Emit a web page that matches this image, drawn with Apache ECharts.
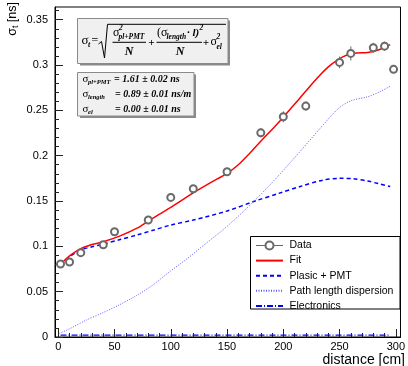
<!DOCTYPE html>
<html><head><meta charset="utf-8">
<script src="https://cdn.jsdelivr.net/npm/echarts@6/dist/echarts.min.js"></script>
<style>html,body{margin:0;padding:0;background:#fff}#c{width:408px;height:366px}</style>
</head><body><div id="c"></div>
<script>
// ---- data ----
const dataX   = [2, 10, 20, 40, 50, 80, 100, 120, 150, 180, 200, 220, 250, 260, 280, 290, 298];
const dataY   = [0.0805, 0.0827, 0.0930, 0.1018, 0.1161, 0.1290, 0.1540, 0.1635, 0.1823, 0.2252, 0.2429, 0.2547, 0.3029, 0.3128, 0.3190, 0.3208, 0.2952];
const dataErr = [0.002, 0.002, 0.002, 0.002, 0.002, 0.003, 0.003, 0.003, 0.004, 0.005, 0.006, 0.005, 0.0065, 0.0077, 0.0055, 0.005, 0.002];

const fitX = [2, 10, 20, 30, 40, 55, 70, 80, 90, 100, 120, 135, 150, 160, 170, 180, 190, 200, 215, 230, 240, 248, 256, 265, 275, 285, 295];
const fitY = [0.0800, 0.0895, 0.0975, 0.1020, 0.1050, 0.1115, 0.1200, 0.1279, 0.1356, 0.1430, 0.1590, 0.1700, 0.1805, 0.1900, 0.2025, 0.2160, 0.2290, 0.2425, 0.2640, 0.2855, 0.2980, 0.3055, 0.3108, 0.3132, 0.3137, 0.3168, 0.3225];

const pmtX = [2, 10, 20, 30, 40, 55, 70, 85, 100, 120, 150, 175, 196, 215, 235, 250, 262, 275, 285, 295];
const pmtY = [0.0800, 0.0885, 0.0960, 0.0995, 0.1025, 0.1075, 0.1125, 0.1180, 0.1235, 0.1290, 0.1390, 0.1500, 0.1584, 0.1660, 0.1730, 0.1750, 0.1745, 0.1720, 0.1690, 0.1660];

const pathX = [1, 10, 25, 40, 54, 70, 84, 100, 113, 130, 150, 175, 195, 216, 234, 249, 260, 275, 285, 295];
const pathY = [0.0040, 0.0090, 0.0187, 0.0270, 0.0353, 0.0460, 0.0573, 0.0730, 0.0849, 0.1020, 0.1220, 0.1510, 0.1770, 0.2062, 0.2319, 0.2521, 0.2605, 0.2650, 0.2700, 0.2767];

const elecX = [2, 100, 200, 295];
const elecY = [0.0020, 0.0020, 0.0020, 0.0020];

const xMajorTicks = [0, 50, 100, 150, 200, 250, 300];
const xMinorTicks = [0,10,20,30,40,50,60,70,80,90,100,110,120,130,140,150,160,170,180,190,200,210,220,230,240,250,260,270,280,290,300];
const yMajorTicks = [0, 0.05, 0.1, 0.15, 0.2, 0.25, 0.3, 0.35];
const yMinorTicks = [0,0.01,0.02,0.03,0.04,0.05,0.06,0.07,0.08,0.09,0.1,0.11,0.12,0.13,0.14,0.15,0.16,0.17,0.18,0.19,0.2,0.21,0.22,0.23,0.24,0.25,0.26,0.27,0.28,0.29,0.3,0.31,0.32,0.33,0.34,0.35,0.36];

const seriesNames = ['Data', 'Fit', 'Plasic + PMT', 'Path length dispersion', 'Electronics'];

// ---- build ----
const SANS = '"Liberation Sans", Arial, Helvetica, sans-serif';
const SERIF = '"Liberation Serif", "Times New Roman", serif';
const XMIN = -2.9, XMAX = 304.15, YMIN = 0, YMAX = 0.364;
const pairs = (xs, ys) => xs.map((x, i) => [x, ys[i]]);

function xAxisDef(major) {
  return {
    type: 'value', min: XMIN, max: XMAX, position: 'bottom', offset: 0,
    axisLine: { show: major, onZero: false, lineStyle: { color: '#000', width: 1 } },
    axisTick: { show: true, inside: true, length: major ? 8 : 4, customValues: major ? xMajorTicks : xMinorTicks, lineStyle: { color: '#222', width: 1 } },
    axisLabel: { show: major, customValues: xMajorTicks, margin: 4, fontSize: 11, color: '#000', fontFamily: SANS },
    splitLine: { show: false }
  };
}
function yAxisDef(major) {
  return {
    type: 'value', min: YMIN, max: YMAX, position: 'left', offset: 0,
    axisLine: { show: major, onZero: false, lineStyle: { color: '#000', width: 1 } },
    axisTick: { show: true, inside: true, length: major ? 8 : 4, customValues: major ? yMajorTicks : yMinorTicks, lineStyle: { color: '#222', width: 1 } },
    axisLabel: { show: major, customValues: yMajorTicks, margin: 7, fontSize: 11, color: '#000', fontFamily: SANS, formatter: v => String(+v.toFixed(2)) },
    splitLine: { show: false }
  };
}

function txt(x, y, text, size, opts) {
  opts = opts || {};
  return {
    type: 'text', x: x, y: y, z: opts.z || 20,
    style: {
      text: text, fontSize: size, fontFamily: opts.family || SERIF,
      fontWeight: opts.weight || 'normal', fontStyle: opts.style || 'normal',
      fill: '#000', align: opts.align || 'left', verticalAlign: 'middle'
    }
  };
}
const BI = { weight: 'bold', style: 'italic' };

const formulaBox = [
  { type: 'rect', z: 15, shape: { x: 80, y: 20.5, width: 150, height: 45 }, style: { fill: '#8a8a8a' } },
  { type: 'rect', z: 16, shape: { x: 77.5, y: 18.5, width: 150.5, height: 45 }, style: { fill: '#f0f0f0', stroke: '#8a8a8a', lineWidth: 1 } },
  txt(81.5, 41, 'σ', 13),
  txt(88, 44.5, 't', 8, BI),
  txt(91.5, 41, '=', 12),
  { type: 'polyline', z: 20, shape: { points: [[98.5, 44], [101.5, 41.5], [104.5, 58], [107.5, 24.3], [226, 24.3]] }, style: { stroke: '#000', lineWidth: 1, fill: null } },
  txt(113, 33, 'σ', 12),
  txt(119, 28.5, '2', 7.5, BI),
  txt(118.5, 37, 'pl+PMT', 7.5, BI),
  { type: 'line', z: 20, shape: { x1: 112.5, y1: 42.3, x2: 146, y2: 42.3 }, style: { stroke: '#000', lineWidth: 1 } },
  txt(129, 52, 'N', 12, Object.assign({ align: 'center' }, BI)),
  txt(151.3, 43, '+', 11, Object.assign({ align: 'center' }, BI)),
  txt(157, 33, '(σ', 12),
  txt(166.5, 37, 'length', 7.5, BI),
  txt(187, 33, '· l)', 11, BI),
  txt(199.5, 28.5, '2', 7.5, BI),
  { type: 'line', z: 20, shape: { x1: 156.5, y1: 42.3, x2: 202, y2: 42.3 }, style: { stroke: '#000', lineWidth: 1 } },
  txt(180, 52, 'N', 12, Object.assign({ align: 'center' }, BI)),
  txt(206, 43, '+', 11, Object.assign({ align: 'center' }, BI)),
  txt(210.5, 42, 'σ', 12),
  txt(216.5, 37.5, '2', 7.5, BI),
  txt(216.5, 47, 'el', 7.5, BI)
];

const paramBox = [
  { type: 'rect', z: 15, shape: { x: 80, y: 74.5, width: 116, height: 43.5 }, style: { fill: '#8a8a8a' } },
  { type: 'rect', z: 16, shape: { x: 77.5, y: 72.5, width: 116.5, height: 43.5 }, style: { fill: '#f0f0f0', stroke: '#8a8a8a', lineWidth: 1 } },
  txt(82.5, 79.5, 'σ', 11),
  txt(88, 82.5, 'pl+PMT', 6.5, BI),
  txt(114, 79.5, '= 1.61 ± 0.02 ns', 10, BI),
  txt(82.5, 94.5, 'σ', 11),
  txt(88, 97.5, 'length', 6.5, BI),
  txt(115, 94.5, '= 0.89 ± 0.01 ns/m', 10, BI),
  txt(82.5, 109, 'σ', 11),
  txt(88, 112, 'el', 6.5, BI),
  txt(115, 109, '= 0.00 ± 0.01 ns', 10, BI)
];

const legendBox = { type: 'rect', z: 30, shape: { x: 250.5, y: 236.5, width: 149.5, height: 72.5 }, style: { fill: '#fff', stroke: '#000', lineWidth: 1 } };

const axisTitles = [
  {
    type: 'text', x: 12.5, y: 2, rotation: Math.PI / 2, z: 20,
    style: {
      text: '{a|σ}{b|t}{a| [ns]}', align: 'right', verticalAlign: 'middle', fill: '#000',
      rich: {
        a: { fontSize: 12.5, fontFamily: SANS, lineHeight: 16, verticalAlign: 'middle' },
        b: { fontSize: 8.5, fontFamily: SANS, lineHeight: 16, verticalAlign: 'bottom' }
      }
    }
  },
  { type: 'text', x: 405, y: 360, z: 20, style: { text: 'distance [cm]', fontSize: 14, fontFamily: SANS, fill: '#000', align: 'right', verticalAlign: 'middle' } }
];

const hideSym = { opacity: 0 };
const chart = echarts.init(document.getElementById('c'), null, { renderer: 'canvas' });
chart.setOption({
  backgroundColor: '#fff',
  animation: false,
  grid: { left: 55, right: 5, top: 7, bottom: 29, show: true, borderColor: '#000', borderWidth: 1, backgroundColor: 'transparent' },
  xAxis: [xAxisDef(true), xAxisDef(false)],
  yAxis: [yAxisDef(true), yAxisDef(false)],
  legend: {
    orient: 'vertical', left: 251, top: 237, padding: [3, 4, 3, 4],
    itemWidth: 27, itemHeight: 10, itemGap: 4.1, selectedMode: false, z: 40,
    textStyle: { fontSize: 10.5, fontFamily: SANS, color: '#000', padding: [0, 0, 0, 1.5] },
    data: [
      { name: seriesNames[0], lineStyle: { color: '#666', width: 1, opacity: 1 }, itemStyle: { borderWidth: 0.8 } },
      { name: seriesNames[1], itemStyle: hideSym },
      { name: seriesNames[2], itemStyle: hideSym },
      { name: seriesNames[3], itemStyle: hideSym },
      { name: seriesNames[4], itemStyle: hideSym }
    ]
  },
  graphic: { elements: [].concat(formulaBox, paramBox, [legendBox], axisTitles) },
  series: [
    {
      name: seriesNames[0], type: 'line', xAxisIndex: 0, yAxisIndex: 0,
      data: pairs(dataX, dataY), symbol: 'emptyCircle', symbolSize: 7, showSymbol: true,
      color: '#6a6a6a', itemStyle: { color: '#6a6a6a', borderColor: '#6a6a6a', borderWidth: 0.8 },
      lineStyle: { width: 1, opacity: 0 }, z: 6, silent: true
    },
    {
      name: 'errors', type: 'custom', xAxisIndex: 0, yAxisIndex: 0, z: 5, silent: true,
      data: dataX.map((x, i) => [x, dataY[i], dataErr[i]]),
      renderItem: function (params, api) {
        const x = api.value(0), y = api.value(1), e = api.value(2);
        const c = api.coord([x, y]), t = api.coord([x, y + e]), b = api.coord([x, y - e]);
        const r = 3.5, kids = [];
        if (c[1] - t[1] > r) kids.push({ type: 'line', shape: { x1: c[0], y1: t[1], x2: c[0], y2: c[1] - r }, style: { stroke: '#666', lineWidth: 1 } });
        if (b[1] - c[1] > r) kids.push({ type: 'line', shape: { x1: c[0], y1: c[1] + r, x2: c[0], y2: b[1] }, style: { stroke: '#666', lineWidth: 1 } });
        return { type: 'group', children: kids };
      }
    },
    {
      name: seriesNames[1], type: 'line', xAxisIndex: 0, yAxisIndex: 0, data: pairs(fitX, fitY),
      showSymbol: false, symbol: 'none', smooth: 0.3, color: '#ff0000', lineStyle: { color: '#ff0000', width: 1.5 }, z: 4
    },
    {
      name: seriesNames[2], type: 'line', xAxisIndex: 0, yAxisIndex: 0, data: pairs(pmtX, pmtY),
      showSymbol: false, symbol: 'none', smooth: 0.3, color: '#0000ff', lineStyle: { color: '#0000ff', width: 1.5, type: [4, 3] }, z: 3
    },
    {
      name: seriesNames[3], type: 'line', xAxisIndex: 0, yAxisIndex: 0, data: pairs(pathX, pathY),
      showSymbol: false, symbol: 'none', smooth: 0.3, color: '#5a5aff', lineStyle: { color: '#5a5aff', width: 1, type: [1, 1.5] }, z: 3
    },
    {
      name: seriesNames[4], type: 'line', xAxisIndex: 0, yAxisIndex: 0, data: pairs(elecX, elecY),
      showSymbol: false, symbol: 'none', color: '#0000ff', lineStyle: { color: '#0000ff', width: 1.2, type: [6, 2, 1, 2] }, z: 3
    }
  ]
});
</script>
</body></html>
